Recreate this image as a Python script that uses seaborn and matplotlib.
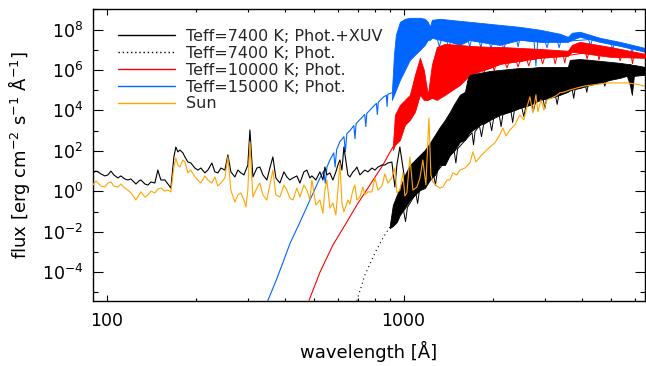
import numpy as np
import matplotlib
matplotlib.use("Agg")
import matplotlib.pyplot as plt
import seaborn as sns
from matplotlib.lines import Line2D
from matplotlib.ticker import FixedLocator, NullFormatter, FuncFormatter

# ---------------- data (wavelength in Angstrom, log10 flux) ----------------
# EUV part: Sun and Teff=7400 K (Phot.+XUV) share the same wavelength grid
wl_euv = [89.9, 92.0, 93.5, 95.7, 98.7, 101.0, 103.4, 105.8, 109.2, 111.7,
          115.2, 117.9, 120.7, 123.6, 125.5, 128.5, 130.5, 134.6, 137.8, 141.0,
          145.4, 148.8, 152.3, 157.1, 160.9, 164.6, 168.5, 171.1, 173.8, 176.5,
          180.7, 183.5, 187.8, 192.2, 198.3, 203.0, 207.7, 214.3, 219.3, 226.2,
          231.5, 237.0, 242.6, 250.2, 256.1, 262.1, 270.4, 276.7, 283.3, 290.0,
          294.4, 299.0, 303.8, 310.9, 320.7, 328.2, 336.0, 346.5, 354.6, 363.0,
          371.5, 383.3, 395.5, 404.6, 414.1, 424.0, 437.3, 447.6, 461.7, 472.5,
          483.6, 491.2, 506.6, 522.6, 535.0, 543.3, 551.8, 564.8, 578.0, 591.6,
          600.9, 610.4, 620.0, 629.6, 649.4, 659.6, 675.0, 685.6, 696.4, 712.8,
          729.4, 740.8, 758.3, 782.2, 800.9, 819.7, 845.5, 865.0, 885.3, 913.2,
          934.9, 949.4, 971.7, 994.5, 1010, 1026, 1050]
logf_sun_euv = [0.31, 0.51, 0.41, 0.26, 0.21, 0.41, 0.46, 0.26, 0.21, 0.36,
                0.16, 0.06, -0.08, -0.28, -0.43, -0.18, -0.03, -0.28, -0.18, 0.01,
                -0.08, 0.11, 0.16, 0.01, 0.06, -0.03, 1.20, 1.65, 1.30, 1.20,
                1.55, 1.45, 0.91, 1.05, 0.71, 0.56, 0.41, 0.76, 0.56, 0.41,
                0.71, 0.26, 0.41, 0.66, 1.70, 0.06, -0.53, -0.18, -0.08, -0.43,
                -0.78, 0.06, 2.44, -0.28, 0.16, 0.41, -0.18, -0.43, 0.31, 1.05,
                -0.18, -0.28, 0.31, 0.06, -0.33, -0.43, 0.16, -0.28, 0.31, 0.06,
                -0.43, 0.56, -0.68, -0.43, -1.08, 0.06, 0.56, -0.83, -0.58, -1.17,
                0.06, 1.40, -0.58, -1.02, -0.43, -0.63, 0.06, 0.31, -0.43, -0.28,
                0.21, -0.18, -0.03, -0.03, 0.66, 0.06, 0.26, 0.86, 0.41, 0.66,
                1.15, -0.08, 0.06, 0.91, -0.23, -0.08, 1.70]
logf_7400_xuv = [0.91, 1.00, 0.96, 0.86, 0.76, 0.81, 1.00, 0.81, 0.66, 0.76,
                 0.61, 0.56, 0.61, 0.46, 0.36, 0.51, 0.56, 0.36, 0.31, 0.46,
                 0.41, 1.05, 0.56, 0.56, 0.36, 0.16, 1.70, 2.19, 1.95, 2.04,
                 1.90, 1.70, 1.45, 1.40, 1.15, 1.05, 1.15, 0.91, 1.05, 1.40,
                 0.96, 0.91, 1.15, 1.05, 1.80, 0.96, 0.71, 1.05, 0.91, 0.81,
                 1.05, 1.30, 3.03, 0.71, 1.15, 1.20, 0.81, 0.56, 1.15, 1.70,
                 0.66, 0.41, 0.96, 0.71, 0.56, 0.66, 0.76, 0.41, 0.96, 1.05,
                 0.66, 0.76, 0.56, 0.96, 0.56, 1.20, 0.81, 0.91, 0.56, 0.96,
                 1.30, 1.55, 1.05, 2.19, 0.81, 0.71, 0.96, 1.05, 1.20, 0.81,
                 0.96, 1.05, 0.96, 1.15, 1.05, 1.20, 1.30, 1.30, 1.40, 1.45,
                 0.21, 1.30, 2.19, 1.20, 0.56, 0.21, -0.43]

# Sun, longer wavelengths
wl_sun_uv = [1075, 1109, 1135, 1161, 1189, 1217, 1236, 1255, 1294, 1325,
             1356, 1399, 1432, 1466, 1512, 1547, 1609, 1672, 1712, 1752,
             1807, 1878, 1953, 2029, 2110, 2160, 2211, 2280, 2370, 2464,
             2542, 2602, 2663, 2725, 2790, 2833, 2900, 2969, 3038, 3158,
             3257, 3360, 3493, 3631, 3834, 4075, 4340, 4580, 4951, 5350,
             5649, 6009, 6494]
logf_sun_uv = [0.06, 0.21, 0.66, 1.55, 0.31, 3.63, 0.81, 0.46, 0.26, 0.16,
               0.21, 0.56, 0.56, 0.91, 0.81, 1.05, 1.15, 1.40, 1.95, 1.45,
               1.70, 1.95, 2.19, 2.39, 2.79, 3.13, 2.74, 3.03, 3.28, 3.78,
               3.53, 4.17, 4.67, 3.88, 4.77, 3.93, 4.52, 4.02, 4.52, 4.62,
               4.72, 4.87, 4.92, 5.01, 5.11, 5.21, 5.26, 5.31, 5.36, 5.36,
               5.36, 5.31, 5.21]

# Teff = 7400 K photosphere: Wien tail (dotted) and line-blanketed band
wl_7400_tail = [696, 741, 801, 852, 899]
logf_7400_tail = [-5.41, -4.14, -3.05, -2.31, -1.77]
wl_7400_band = [899, 920, 949, 972, 1010, 1050, 1092, 1135, 1179, 1226,
                1275, 1325, 1378, 1432, 1488, 1547, 1609, 1646, 1672, 1807,
                1953, 2110, 2280, 2464, 2663, 2878, 3110, 3360, 3574, 3631,
                3923, 4240, 4580, 4951, 5350, 5649, 5781, 5870, 5963, 6494]
logf_7400_hi = [-1.67, -0.68, -0.18, 0.16, 0.81, 1.30, 1.55, 1.80, 2.04, 2.39,
                2.79, 3.18, 3.53, 3.93, 4.37, 4.77, 4.92, 5.61, 5.76, 5.86,
                5.95, 6.00, 6.05, 6.10, 6.10, 6.15, 6.15, 6.15, 6.15, 6.50,
                6.54, 6.50, 6.45, 6.40, 6.35, 6.30, 6.30, 6.25, 6.25, 6.15]
logf_7400_lo = [-1.82, -1.72, -1.52, -1.17, -0.83, -0.43, -0.18, 0.06, 0.16, 0.56,
                0.81, 1.30, 1.30, 1.80, 2.04, 2.44, 2.54, 2.79, 2.93, 3.28,
                3.53, 3.78, 3.93, 4.12, 4.27, 4.52, 4.62, 4.77, 4.92, 5.01,
                5.11, 5.26, 5.36, 5.51, 5.61, 5.71, 5.26, 4.77, 5.71, 5.76]
# strongest absorption lines below the 7400 K band
wl_7400_lines = [1000, 1015, 1030, 1100, 1115, 1130, 1260, 1280, 1300,
                 1480, 1500, 1520, 1700, 1720, 1740, 1800, 1830, 1860,
                 1950, 1980, 2010, 2100, 2130, 2160, 2300, 2330, 2360,
                 2500, 2540, 2580, 2700, 2740, 2780, 2950, 2990, 3030,
                 3250, 3290, 3330, 3700, 3740, 3780, 4100, 4140, 4180,
                 4700, 4760, 4820]
logf_7400_lines = [-0.95, -1.5, -0.8, -0.1, -0.6, 0.0, 0.9, 0.3, 1.0,
                   2.0, 1.4, 2.1, 2.9, 2.3, 2.95, 3.25, 2.7, 3.3,
                   3.5, 3.0, 3.6, 3.75, 3.2, 3.8, 3.95, 3.4, 4.0,
                   4.15, 3.7, 4.2, 4.3, 4.0, 4.4, 4.55, 4.1, 4.6,
                   4.7, 4.3, 4.75, 5.0, 4.6, 5.05, 5.2, 4.9, 5.25,
                   5.45, 5.2, 5.5]

# Teff = 10000 K
wl_10000_tail = [480, 523, 578, 635, 696, 770, 852, 920]
logf_10000_tail = [-5.41, -4.00, -2.66, -1.67, -0.68, 0.31, 1.30, 2.19]
wl_10000_band = [920, 935, 972, 1010, 1050, 1092, 1135, 1170, 1207, 1245,
                 1294, 1378, 1547, 1672, 1953, 2110, 2878, 3574, 3688, 3923,
                 4951, 6494]
logf_10000_hi = [2.19, 3.78, 4.27, 4.52, 4.77, 5.76, 6.60, 6.00, 4.77, 6.25,
                 7.14, 7.29, 7.24, 7.19, 7.14, 7.14, 7.04, 6.95, 7.24, 7.39,
                 7.14, 6.80]
logf_10000_lo = [2.04, 2.29, 2.54, 3.28, 3.53, 3.93, 4.77, 4.52, 4.52, 4.62,
                 4.52, 4.77, 5.26, 5.76, 6.10, 6.30, 6.60, 6.70, 6.90, 6.85,
                 6.65, 6.60]
wl_10000_lines = [1700, 1720, 1740, 1850, 1870, 1890, 2000, 2020, 2040,
                  2200, 2230, 2260, 2400, 2430, 2460, 2600, 2640, 2680,
                  2900, 2940, 2980, 3200, 3240, 3280, 3450, 3490, 3530,
                  4100, 4150, 4200, 4500, 4550, 4600, 5300, 5360, 5420,
                  5850, 5900, 5950]
logf_10000_lines = [5.9, 5.5, 5.95, 6.15, 5.9, 6.15, 6.2, 5.95, 6.2,
                    6.35, 6.1, 6.35, 6.4, 6.15, 6.4, 6.5, 6.2, 6.5,
                    6.6, 6.3, 6.6, 6.65, 6.3, 6.65, 6.7, 6.35, 6.7,
                    6.85, 6.55, 6.85, 6.8, 6.5, 6.8, 6.7, 6.45, 6.7,
                    6.65, 6.3, 6.65]

# Teff = 15000 K
wl_15000_tail = [349, 372, 393, 415, 448, 484, 523, 538, 545, 552,
                 565, 582, 588, 595, 610, 630, 637, 644, 660, 680,
                 686, 692, 713, 740, 746, 752, 788, 810, 816, 822,
                 857, 875, 880, 885, 913]
logf_15000_tail = [-5.41, -4.42, -3.50, -2.56, -1.52, -0.43, 0.66, 1.00, 0.40, 1.20,
                   1.55, 1.90, 1.20, 2.05, 2.45, 2.70, 1.95, 2.85, 3.00, 3.25,
                   2.60, 3.35, 3.55, 3.80, 3.20, 3.85, 4.17, 4.35, 3.80, 4.40,
                   4.67, 4.75, 4.20, 4.80, 4.87]
wl_15000_band = [913, 928, 942, 972, 1010, 1050, 1092, 1135, 1179, 1207,
                 1226, 1245, 1325, 1432, 1547, 1672, 1807, 2110, 2464, 2878,
                 3360, 3574, 3688, 3923, 4580, 5350, 6494]
logf_15000_hi = [4.87, 6.75, 7.74, 8.38, 8.53, 8.58, 8.58, 8.58, 8.53, 8.38,
                 8.13, 8.48, 8.53, 8.48, 8.43, 8.38, 8.33, 8.23, 8.13, 7.99,
                 7.79, 7.64, 7.84, 7.89, 7.59, 7.39, 7.09]
logf_15000_lo = [4.52, 4.77, 5.01, 5.51, 6.00, 6.50, 6.75, 6.99, 7.24, 7.49,
                 7.49, 7.59, 7.49, 7.39, 7.24, 7.49, 7.39, 7.24, 7.49, 7.39,
                 7.39, 7.39, 7.49, 7.64, 7.39, 7.19, 6.90]
wl_15000_lines = [1300, 1320, 1340, 1400, 1420, 1440, 1520, 1540, 1560,
                  1650, 1670, 1690, 1800, 1820, 1840, 1950, 1970, 1990,
                  2150, 2175, 2200, 2400, 2430, 2460, 2750, 2790, 2830,
                  3000, 3040, 3080, 3300, 3340, 3380, 4200, 4260, 4320,
                  5000, 5060, 5120, 5800, 5880, 5960]
logf_15000_lines = [7.5, 7.15, 7.5, 7.4, 7.1, 7.4, 7.3, 7.1, 7.3,
                    7.45, 7.15, 7.45, 7.4, 7.1, 7.4, 7.3, 7.05, 7.3,
                    7.3, 7.0, 7.3, 7.5, 7.15, 7.5, 7.4, 6.2, 7.4,
                    7.4, 7.1, 7.4, 7.4, 7.1, 7.4, 7.5, 7.2, 7.5,
                    7.3, 7.0, 7.3, 7.1, 6.9, 7.1]

legend_labels = ["Teff=7400 K; Phot.+XUV", "Teff=7400 K; Phot.",
                 "Teff=10000 K; Phot.", "Teff=15000 K; Phot.", "Sun"]
x_ticks = [100, 1000]
y_ticks_exp = [-4, -2, 0, 2, 4, 6, 8]

# ---------------- style ----------------
BLUE = "#0066ff"
RED = "#ff0000"
ORANGE = "#ffa500"
BLACK = "#000000"

sns.set_theme(style="ticks")
plt.rcParams['font.family'] = ['DejaVu Sans']
plt.rcParams['mathtext.default'] = 'regular'


def F(a):
    return 10.0 ** np.asarray(a, dtype=float)


def line(ax, x, logy, color, z, lw=0.8, **kw):
    sns.lineplot(x=x, y=F(logy), ax=ax, color=color, lw=lw,
                 estimator=None, sort=False, zorder=z, **kw)


fig = plt.figure(figsize=(6.46, 3.66), dpi=100)
ax = fig.add_axes([93 / 646, 1 - 300.7 / 366, 552 / 646, 291.4 / 366])
ax.set_xscale('log')
ax.set_yscale('log')

# Teff = 15000 K
ax.fill_between(wl_15000_band, F(logf_15000_hi), F(logf_15000_lo),
                color=BLUE, lw=0.6, zorder=2)
line(ax, wl_15000_tail, logf_15000_tail, BLUE, 2)
line(ax, wl_15000_lines, logf_15000_lines, BLUE, 2, lw=0.7)
# Teff = 10000 K
ax.fill_between(wl_10000_band, F(logf_10000_hi), F(logf_10000_lo),
                color=RED, lw=0.6, zorder=3)
line(ax, wl_10000_tail, logf_10000_tail, RED, 3)
line(ax, wl_10000_lines, logf_10000_lines, RED, 3, lw=0.7)
# Teff = 7400 K
ax.fill_between(wl_7400_band, F(logf_7400_hi), F(logf_7400_lo),
                color=BLACK, lw=0.6, zorder=4)
line(ax, wl_7400_lines, logf_7400_lines, BLACK, 4, lw=0.7)
line(ax, wl_7400_tail, logf_7400_tail, BLACK, 4, linestyle=(0, (1, 3)))
line(ax, wl_euv, logf_7400_xuv, BLACK, 4)
# Sun
line(ax, wl_euv + wl_sun_uv, logf_sun_euv + logf_sun_uv, ORANGE, 5)

ax.set_xlim(90, 6500)
ax.set_ylim(10 ** -5.41, 1e9)

# ticks
ax.xaxis.set_major_locator(FixedLocator(x_ticks))
ax.xaxis.set_major_formatter(FuncFormatter(lambda v, p: "%d" % round(v)))
ax.xaxis.set_minor_locator(FixedLocator([200, 300, 400, 500, 600, 700, 800, 900,
                                         2000, 3000, 4000, 5000, 6000]))
ax.xaxis.set_minor_formatter(NullFormatter())
ax.yaxis.set_major_locator(FixedLocator([10.0 ** e for e in y_ticks_exp]))
ax.yaxis.set_major_formatter(FuncFormatter(
    lambda v, p: "10$^{%d}$" % round(np.log10(v))))
ax.yaxis.set_minor_locator(FixedLocator([10.0 ** e for e in range(-5, 10, 2)]))
ax.yaxis.set_minor_formatter(NullFormatter())

ax.tick_params(axis='both', which='both', direction='in', top=True, right=True,
               width=0.8, color='black', labelsize=12.5, labelcolor='black')
ax.tick_params(axis='x', which='major', length=4.5, pad=8)
ax.tick_params(axis='x', which='minor', length=2.3)
ax.tick_params(axis='y', which='major', length=7.5, pad=7)
ax.tick_params(axis='y', which='minor', length=3.8)
for s in ax.spines.values():
    s.set_linewidth(1.0)
    s.set_color('black')

ax.set_xlabel("wavelength [Å]", fontsize=13, color='black', labelpad=8)
ax.set_ylabel("flux [erg cm$^{-2}$ s$^{-1}$ Å$^{-1}$]", fontsize=13,
              color='black', labelpad=7)

handles = [Line2D([], [], color=BLACK, lw=1.0),
           Line2D([], [], color=BLACK, lw=1.0, linestyle=(0, (1, 2))),
           Line2D([], [], color=RED, lw=1.0),
           Line2D([], [], color=BLUE, lw=1.0),
           Line2D([], [], color=ORANGE, lw=1.0)]
leg = ax.legend(handles, legend_labels, loc='upper left',
                bbox_to_anchor=(0.045, 0.933), frameon=False, fontsize=11.5,
                handlelength=3.6, handletextpad=0.65, labelspacing=0.12,
                borderpad=0, borderaxespad=0)
leg.set_zorder(10)

fig.savefig("out.png", dpi=100)
